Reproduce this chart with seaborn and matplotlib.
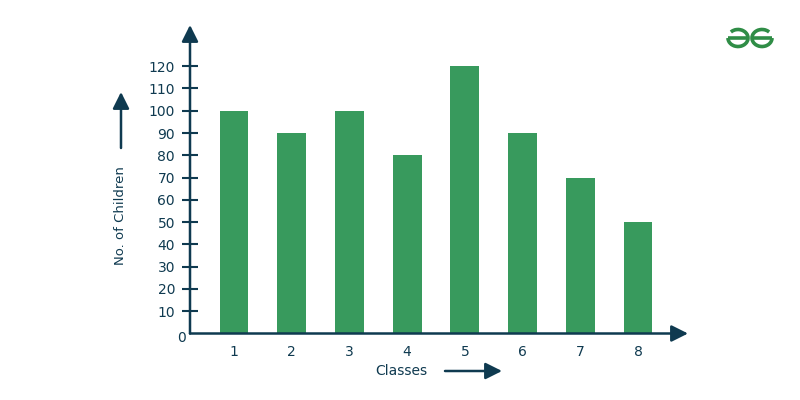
import matplotlib
matplotlib.use('Agg')
import matplotlib.pyplot as plt
import seaborn as sns
import pandas as pd
from matplotlib.patches import Arc

# données
classes = ['1', '2', '3', '4', '5', '6', '7', '8']
children = [100, 90, 100, 80, 120, 90, 70, 50]
y_ticks = [10, 20, 30, 40, 50, 60, 70, 80, 90, 100, 110, 120]

navy = '#0F3A50'
green = '#389A5D'
logo_green = '#2F8D46'

sns.set_theme(style='white')
plt.rcParams['font.family'] = ['DejaVu Sans']

df = pd.DataFrame({'Classes': classes, 'Children': children})

fig = plt.figure(figsize=(8, 4), dpi=100)
fig.patch.set_facecolor('white')

# axe principal, placé en pixels
ax = fig.add_axes([190 / 800, 66.5 / 400, 498 / 800, 308.5 / 400])
sns.barplot(data=df, x='Classes', y='Children', color=green, width=0.5,
            saturation=1, linewidth=0, ax=ax)
ax.set_xlim(-0.7625, 7.867)
ax.set_ylim(0, 138.5)
ax.set_xlabel('')
ax.set_ylabel('')
for s in ax.spines.values():
    s.set_visible(False)
ax.set_facecolor('none')

ax.set_yticks(y_ticks)
ax.tick_params(axis='y', direction='inout', length=11.5, width=1.5, color=navy,
               labelcolor=navy, labelsize=10, pad=5, left=True)
ax.tick_params(axis='x', length=0, labelcolor=navy, labelsize=10, pad=8)

# axes avec flèches
arrow = dict(arrowstyle='-|>,head_length=0.5,head_width=0.25', color=navy,
             lw=1.8, mutation_scale=20, shrinkA=0, shrinkB=0)
ax.annotate('', xy=(0, 1), xytext=(0, 0), xycoords='axes fraction', arrowprops=arrow)
ax.annotate('', xy=(1, 0), xytext=(0, 0), xycoords='axes fraction', arrowprops=arrow)

# calque en pixels pour les étiquettes et le logo
ov = fig.add_axes([0, 0, 1, 1], zorder=5)
ov.set_xlim(0, 800)
ov.set_ylim(0, 400)
ov.axis('off')
ov.patch.set_alpha(0)

ov.text(182, 400 - 338, '0', color=navy, fontsize=10, ha='center', va='center')
ov.text(121, 400 - 216, 'No. of Children', color=navy, fontsize=9.5,
        rotation=90, ha='center', va='center')
ov.annotate('', xy=(121, 400 - 92), xytext=(121, 400 - 148), arrowprops=arrow)
ov.text(401, 400 - 371, 'Classes', color=navy, fontsize=10, ha='center', va='center')
ov.annotate('', xy=(502, 400 - 371), xytext=(445, 400 - 371), arrowprops=arrow)

# logo
rx, ry = 10, 8.5
for cx, t1, t2 in [(738, 180, 140), (762, 40, 0)]:
    ov.add_patch(Arc((cx, 400 - 38), 2 * rx, 2 * ry, theta1=t1, theta2=t2,
                     color=logo_green, lw=2.6))
    ov.plot([cx - rx, cx + rx], [400 - 38, 400 - 38], color=logo_green, lw=2.6,
            solid_capstyle='butt')

fig.savefig('out.png', dpi=100)
